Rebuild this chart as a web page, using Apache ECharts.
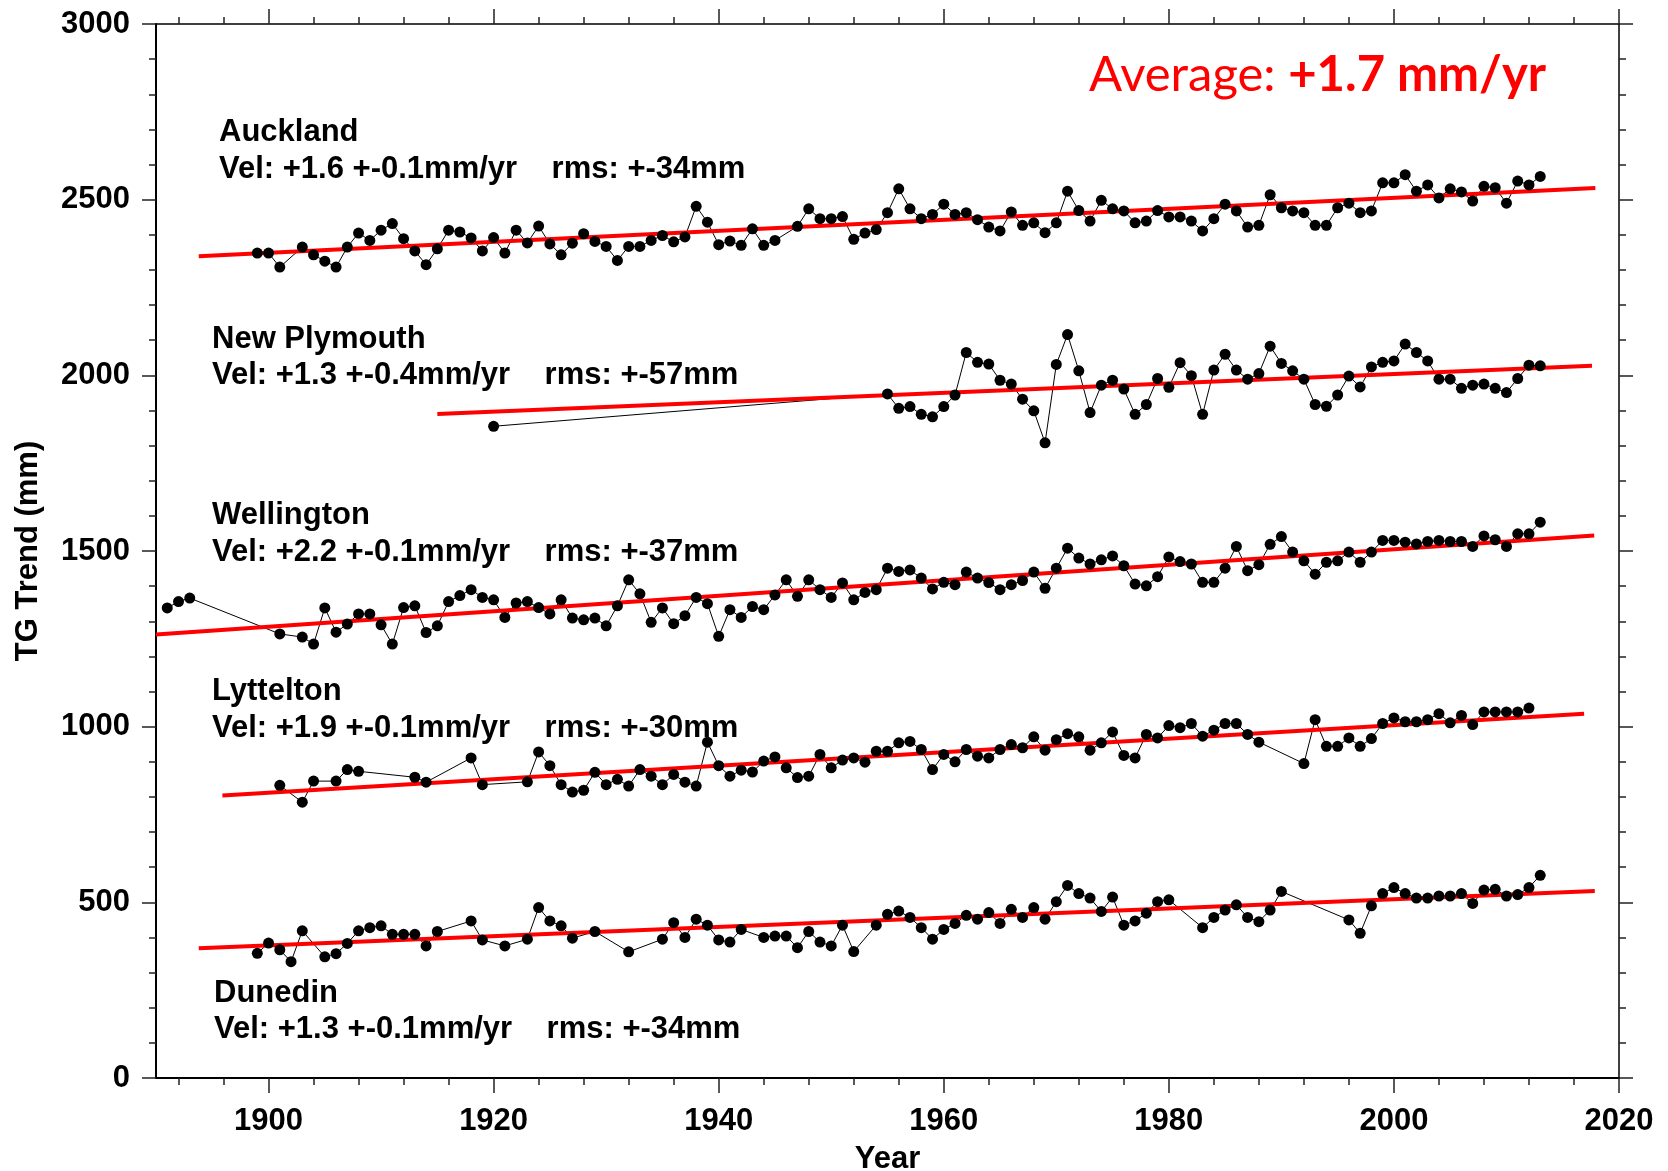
<!DOCTYPE html>
<html>
<head>
<meta charset="utf-8">
<title>TG Trend</title>
<script src="https://cdn.jsdelivr.net/npm/echarts@6.0.0/dist/echarts.min.js"></script>
<style>
  html, body { margin: 0; padding: 0; background: #fff; }
  #chart { width: 1668px; height: 1171px; }
</style>
</head>
<body>
<div id="chart"></div>
<script>
// tick values
const xMajorTicks = [1900, 1920, 1940, 1960, 1980, 2000, 2020]
const xMinorTicks = [1892, 1896, 1904, 1908, 1912, 1916, 1924, 1928, 1932, 1936, 1944, 1948, 1952, 1956,
  1964, 1968, 1972, 1976, 1984, 1988, 1992, 1996, 2004, 2008, 2012, 2016]

// Auckland
const aucklandYears = [1899, 1900, 1901, 1903, 1904, 1905, 1906, 1907, 1908, 1909, 1910, 1911, 1912, 1913, 1914, 1915,
  1916, 1917, 1918, 1919, 1920, 1921, 1922, 1923, 1924, 1925, 1926, 1927, 1928, 1929, 1930, 1931, 1932, 1933, 1934,
  1935, 1936, 1937, 1938, 1939, 1940, 1941, 1942, 1943, 1944, 1945, 1947, 1948, 1949, 1950, 1951, 1952, 1953, 1954,
  1955, 1956, 1957, 1958, 1959, 1960, 1961, 1962, 1963, 1964, 1965, 1966, 1967, 1968, 1969, 1970, 1971, 1972, 1973,
  1974, 1975, 1976, 1977, 1978, 1979, 1980, 1981, 1982, 1983, 1984, 1985, 1986, 1987, 1988, 1989, 1990, 1991, 1992,
  1993, 1994, 1995, 1996, 1997, 1998, 1999, 2000, 2001, 2002, 2003, 2004, 2005, 2006, 2007, 2008, 2009, 2010, 2011,
  2012, 2013]
const aucklandValues = [2348, 2348, 2308, 2365, 2343, 2325, 2308, 2365, 2405, 2384, 2413, 2432, 2389, 2354, 2315, 2360,
  2413, 2408, 2391, 2354, 2392, 2348, 2413, 2377, 2425, 2374, 2343, 2376, 2403, 2381, 2367, 2327, 2367, 2367, 2384,
  2398, 2380, 2394, 2481, 2436, 2372, 2382, 2370, 2417, 2370, 2384, 2424, 2474, 2446, 2446, 2452, 2387, 2405, 2415,
  2463, 2531, 2474, 2446, 2458, 2487, 2458, 2463, 2443, 2422, 2411, 2465, 2427, 2434, 2406, 2434, 2524, 2469, 2439,
  2498, 2474, 2468, 2434, 2439, 2469, 2451, 2451, 2439, 2411, 2446, 2487, 2468, 2422, 2427, 2514, 2477, 2468, 2463,
  2427, 2427, 2477, 2490, 2463, 2468, 2548, 2548, 2571, 2524, 2542, 2505, 2531, 2522, 2496, 2538, 2534, 2490, 2553,
  2542, 2566]

// New Plymouth
const plymouthYears = [1920, 1955, 1956, 1957, 1958, 1959, 1960, 1961, 1962, 1963, 1964, 1965, 1966, 1967, 1968, 1969,
  1970, 1971, 1972, 1973, 1974, 1975, 1976, 1977, 1978, 1979, 1980, 1981, 1982, 1983, 1984, 1985, 1986, 1987, 1988,
  1989, 1990, 1991, 1992, 1993, 1994, 1995, 1996, 1997, 1998, 1999, 2000, 2001, 2002, 2003, 2004, 2005, 2006, 2007,
  2008, 2009, 2010, 2011, 2012, 2013]
const plymouthValues = [1855, 1947, 1906, 1911, 1889, 1882, 1911, 1944, 2065, 2037, 2032, 1986, 1975, 1932, 1899, 1808,
  2031, 2116, 2013, 1894, 1972, 1986, 1961, 1889, 1917, 1991, 1966, 2036, 1999, 1889, 2015, 2060, 2015, 1989, 2005,
  2083, 2034, 2013, 1989, 1917, 1912, 1944, 1998, 1967, 2024, 2037, 2041, 2089, 2065, 2041, 1989, 1989, 1963, 1972,
  1975, 1963, 1951, 1991, 2029, 2027]

// Wellington
const wellingtonYears = [1891, 1892, 1893, 1901, 1903, 1904, 1905, 1906, 1907, 1908, 1909, 1910, 1911, 1912, 1913, 1914,
  1915, 1916, 1917, 1918, 1919, 1920, 1921, 1922, 1923, 1924, 1925, 1926, 1927, 1928, 1929, 1930, 1931, 1932, 1933,
  1934, 1935, 1936, 1937, 1938, 1939, 1940, 1941, 1942, 1943, 1944, 1945, 1946, 1947, 1948, 1949, 1950, 1951, 1952,
  1953, 1954, 1955, 1956, 1957, 1958, 1959, 1960, 1961, 1962, 1963, 1964, 1965, 1966, 1967, 1968, 1969, 1970, 1971,
  1972, 1973, 1974, 1975, 1976, 1977, 1978, 1979, 1980, 1981, 1982, 1983, 1984, 1985, 1986, 1987, 1988, 1989, 1990,
  1991, 1992, 1993, 1994, 1995, 1996, 1997, 1998, 1999, 2000, 2001, 2002, 2003, 2004, 2005, 2006, 2007, 2008, 2009,
  2010, 2011, 2012, 2013]
const wellingtonValues = [1338, 1356, 1366, 1264, 1255, 1235, 1338, 1269, 1292, 1321, 1321, 1290, 1235, 1339, 1344, 1268,
  1287, 1356, 1373, 1390, 1368, 1361, 1311, 1352, 1356, 1339, 1321, 1361, 1309, 1304, 1309, 1287, 1344, 1418, 1378,
  1297, 1338, 1293, 1316, 1368, 1350, 1257, 1333, 1311, 1342, 1333, 1375, 1418, 1371, 1418, 1390, 1368, 1409, 1361,
  1382, 1390, 1451, 1442, 1446, 1423, 1392, 1411, 1404, 1440, 1423, 1410, 1390, 1404, 1416, 1440, 1394, 1451, 1508,
  1480, 1463, 1475, 1486, 1458, 1406, 1401, 1427, 1483, 1470, 1463, 1411, 1411, 1451, 1513, 1444, 1461, 1519, 1541,
  1497, 1472, 1434, 1468, 1472, 1497, 1468, 1497, 1530, 1530, 1525, 1520, 1527, 1530, 1527, 1527, 1513, 1543, 1532,
  1513, 1549, 1549, 1582]

// Lyttelton
const lytteltonYears = [1901, 1903, 1904, 1906, 1907, 1908, 1913, 1914, 1918, 1919, 1923, 1924, 1925, 1926, 1927, 1928,
  1929, 1930, 1931, 1932, 1933, 1934, 1935, 1936, 1937, 1938, 1939, 1940, 1941, 1942, 1943, 1944, 1945, 1946, 1947,
  1948, 1949, 1950, 1951, 1952, 1953, 1954, 1955, 1956, 1957, 1958, 1959, 1960, 1961, 1962, 1963, 1964, 1965, 1966,
  1967, 1968, 1969, 1970, 1971, 1972, 1973, 1974, 1975, 1976, 1977, 1978, 1979, 1980, 1981, 1982, 1983, 1984, 1985,
  1986, 1987, 1988, 1992, 1993, 1994, 1995, 1996, 1997, 1998, 1999, 2000, 2001, 2002, 2003, 2004, 2005, 2006, 2007,
  2008, 2009, 2010, 2011, 2012]
const lytteltonValues = [833, 785, 845, 845, 878, 873, 856, 842, 911, 835, 843, 928, 889, 835, 814, 819,
  870, 835, 850, 831, 878, 859, 835, 864, 842, 831, 956, 889, 859, 876, 871, 902, 914, 883, 855,
  859, 921, 883, 905, 911, 899, 930, 930, 954, 958, 935, 878, 921, 900, 935, 916, 911, 935, 949,
  940, 971, 933, 963, 980, 971, 933, 954, 985, 918, 911, 978, 968, 1003, 997, 1009, 973, 990, 1009,
  1009, 978, 956, 895, 1020, 944, 944, 968, 944, 966, 1009, 1025, 1014, 1014, 1020, 1037, 1011, 1032, 1006,
  1042, 1042, 1042, 1042, 1053]

// Dunedin
const dunedinYears = [1899, 1900, 1901, 1902, 1903, 1905, 1906, 1907, 1908, 1909, 1910, 1911, 1912, 1913, 1914, 1915,
  1918, 1919, 1921, 1923, 1924, 1925, 1926, 1927, 1929, 1932, 1935, 1936, 1937, 1938, 1939, 1940, 1941, 1942, 1944,
  1945, 1946, 1947, 1948, 1949, 1950, 1951, 1952, 1954, 1955, 1956, 1957, 1958, 1959, 1960, 1961, 1962, 1963, 1964,
  1965, 1966, 1967, 1968, 1969, 1970, 1971, 1972, 1973, 1974, 1975, 1976, 1977, 1978, 1979, 1980, 1983, 1984, 1985,
  1986, 1987, 1988, 1989, 1990, 1996, 1997, 1998, 1999, 2000, 2001, 2002, 2003, 2004, 2005, 2006, 2007, 2008, 2009,
  2010, 2011, 2012, 2013]
const dunedinValues = [355, 384, 365, 331, 419, 345, 354, 383, 419, 428, 433, 409, 409, 409, 376, 417,
  447, 393, 376, 395, 485, 447, 433, 398, 417, 359, 395, 442, 400, 452, 435, 393, 387, 423, 400,
  404, 404, 371, 417, 387, 376, 435, 360, 435, 466, 475, 457, 428, 395, 423, 440, 463, 452, 471,
  440, 480, 457, 485, 452, 502, 548, 525, 512, 474, 515, 435, 447, 469, 502, 507, 428, 457, 478,
  493, 457, 445, 478, 531, 450, 412, 490, 525, 542, 525, 512, 512, 518, 518, 525, 497, 535, 537,
  518, 522, 542, 577]

// trend lines: [start year, end year], [start value, end value]
const aucklandTrendYears = [1893.8, 2017.9]
const aucklandTrendValues = [2339, 2533]
const plymouthTrendYears = [1915, 2017.6]
const plymouthTrendValues = [1890, 2027]
const wellingtonTrendYears = [1890, 2017.8]
const wellingtonTrendValues = [1262, 1544]
const lytteltonTrendYears = [1895.9, 2016.9]
const lytteltonTrendValues = [804, 1037]
const dunedinTrendYears = [1893.8, 2017.85]
const dunedinTrendValues = [369, 532]

const stations = [
  { name: 'Auckland', years: aucklandYears, values: aucklandValues, tYears: aucklandTrendYears, tValues: aucklandTrendValues,
    vel: 'Vel: +1.6 +-0.1mm/yr    rms: +-34mm', x: 219, y: 133, y2: 170 },
  { name: 'New Plymouth', years: plymouthYears, values: plymouthValues, tYears: plymouthTrendYears, tValues: plymouthTrendValues,
    vel: 'Vel: +1.3 +-0.4mm/yr    rms: +-57mm', x: 212, y: 340, y2: 376 },
  { name: 'Wellington', years: wellingtonYears, values: wellingtonValues, tYears: wellingtonTrendYears, tValues: wellingtonTrendValues,
    vel: 'Vel: +2.2 +-0.1mm/yr    rms: +-37mm', x: 212, y: 516, y2: 553 },
  { name: 'Lyttelton', years: lytteltonYears, values: lytteltonValues, tYears: lytteltonTrendYears, tValues: lytteltonTrendValues,
    vel: 'Vel: +1.9 +-0.1mm/yr    rms: +-30mm', x: 212, y: 692, y2: 729 },
  { name: 'Dunedin', years: dunedinYears, values: dunedinValues, tYears: dunedinTrendYears, tValues: dunedinTrendValues,
    vel: 'Vel: +1.3 +-0.1mm/yr    rms: +-34mm', x: 214, y: 994, y2: 1030 }
]

const FONT = 'Liberation Sans'
const pair = (xs, ys) => xs.map((x, i) => [x, ys[i]])

const chart = echarts.init(document.getElementById('chart'), null, { renderer: 'canvas' })

const series = []
stations.forEach(st => {
  const data = pair(st.years, st.values)
  // thin connecting line
  series.push({
    name: st.name,
    type: 'line',
    data: data,
    showSymbol: false,
    z: 2,
    lineStyle: { color: '#000', width: 1 },
    silent: true
  })
  // red trend
  series.push({
    name: st.name + ' trend',
    type: 'line',
    data: pair(st.tYears, st.tValues),
    showSymbol: false,
    z: 3,
    lineStyle: { color: '#ff0000', width: 4 },
    silent: true
  })
  // dots on top
  series.push({
    name: st.name + ' points',
    type: 'scatter',
    data: data,
    symbol: 'circle',
    symbolSize: 11,
    z: 4,
    itemStyle: { color: '#000', opacity: 1 },
    silent: true
  })
})

const texts = []
stations.forEach(st => {
  texts.push({
    type: 'text', left: st.x, top: st.y - 16, z: 10,
    style: { text: st.name, font: 'bold 31px "' + FONT + '"', fill: '#000' }
  })
  texts.push({
    type: 'text', left: st.x, top: st.y2 - 16, z: 10,
    style: { text: st.vel, font: 'bold 31px "' + FONT + '"', fill: '#000' }
  })
})
texts.push({
  type: 'text', right: 1668 - 1546, top: 51, z: 10,
  style: {
    text: '{a|Average: }{b|+1.7 mm/yr}',
    rich: {
      a: { fontFamily: 'Lato', fontSize: 49, fontWeight: 'normal', fill: '#ff0000', color: '#ff0000' },
      b: { fontFamily: 'Lato', fontSize: 49, fontWeight: 'bold', fill: '#ff0000', color: '#ff0000' }
    }
  }
})

const tickColor = '#222'
const labelStyle = { color: '#000', fontFamily: FONT, fontWeight: 'bold', fontSize: 31 }
const plain = v => String(v)

const option = {
  animation: false,
  backgroundColor: '#fff',
  grid: { left: 156, right: 49, top: 24, bottom: 93, containLabel: false, outerBoundsMode: 'none' },
  xAxis: [
    {
      type: 'value', position: 'bottom', min: 1890, max: 2020,
      name: 'Year', nameLocation: 'middle', nameGap: 66,
      nameTextStyle: labelStyle,
      axisLine: { show: true, onZero: false, lineStyle: { color: '#000', width: 2 } },
      axisTick: { show: true, length: 15, customValues: xMajorTicks, lineStyle: { color: tickColor, width: 1.5 } },
      axisLabel: { show: true, customValues: xMajorTicks, margin: 28, formatter: plain, ...labelStyle },
      splitLine: { show: false }
    },
    {
      type: 'value', position: 'bottom', min: 1890, max: 2020,
      axisLine: { show: false, onZero: false },
      axisTick: { show: true, length: 7, customValues: xMinorTicks, lineStyle: { color: tickColor, width: 1.5 } },
      axisLabel: { show: false },
      splitLine: { show: false }
    },
    {
      type: 'value', position: 'top', min: 1890, max: 2020,
      axisLine: { show: true, onZero: false, lineStyle: { color: '#000', width: 1.5 } },
      axisTick: { show: true, length: 15, customValues: xMajorTicks, lineStyle: { color: tickColor, width: 1.5 } },
      axisLabel: { show: false },
      splitLine: { show: false }
    },
    {
      type: 'value', position: 'top', min: 1890, max: 2020,
      axisLine: { show: false, onZero: false },
      axisTick: { show: true, length: 7, customValues: xMinorTicks, lineStyle: { color: tickColor, width: 1.5 } },
      axisLabel: { show: false },
      splitLine: { show: false }
    }
  ],
  yAxis: [
    {
      type: 'value', position: 'left', min: 0, max: 3000, interval: 500,
      name: 'TG Trend (mm)', nameLocation: 'middle', nameGap: 112, nameRotate: 90,
      nameTextStyle: labelStyle,
      axisLine: { show: true, onZero: false, lineStyle: { color: '#000', width: 2 } },
      axisTick: { show: true, length: 14, lineStyle: { color: tickColor, width: 1.5 } },
      minorTick: { show: true, splitNumber: 5, length: 7, lineStyle: { color: tickColor, width: 1.5 } },
      axisLabel: { show: true, margin: 26, formatter: plain, ...labelStyle },
      splitLine: { show: false }
    },
    {
      type: 'value', position: 'right', min: 0, max: 3000, interval: 500,
      axisLine: { show: true, onZero: false, lineStyle: { color: '#000', width: 1.5 } },
      axisTick: { show: true, length: 14, lineStyle: { color: tickColor, width: 1.5 } },
      minorTick: { show: true, splitNumber: 5, length: 7, lineStyle: { color: tickColor, width: 1.5 } },
      axisLabel: { show: false },
      splitLine: { show: false }
    }
  ],
  graphic: texts,
  series: series
}

chart.setOption(option)
</script>
</body>
</html>
